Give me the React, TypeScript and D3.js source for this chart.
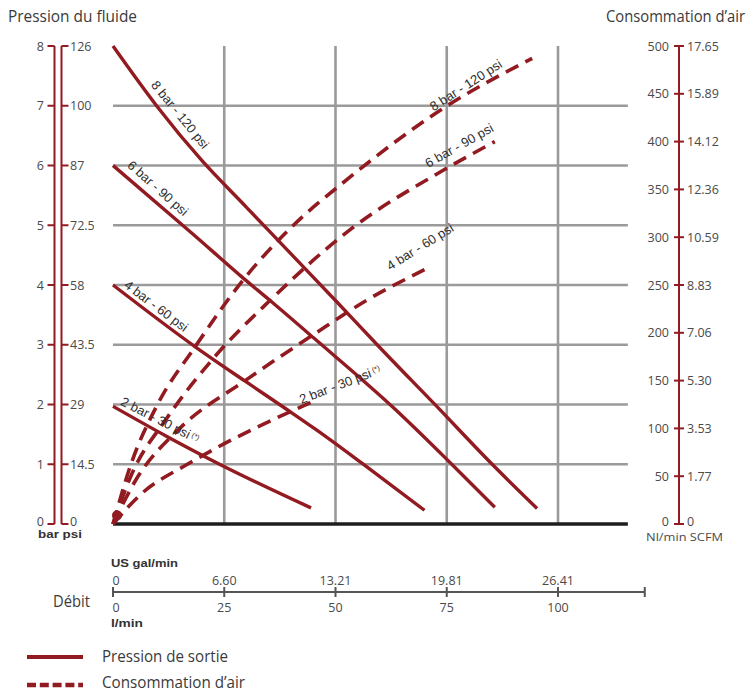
import React from 'react';
import * as d3 from 'd3';

// ---- data ----
const flowTicks = [0, 25, 50, 75, 100];
const galLabels = ['0', '6.60', '13.21', '19.81', '26.41'];
const barTicks = [0, 1, 2, 3, 4, 5, 6, 7, 8];
const psiLabels = ['0', '14.5', '29', '43.5', '58', '72.5', '87', '100', '126'];
const airTicks = [0, 50, 100, 150, 200, 250, 300, 350, 400, 450, 500];
const scfmLabels = ['0', '1.77', '3.53', '5.30', '7.06', '8.83', '10.59', '12.36', '14.12', '15.89', '17.65'];

// outlet pressure (bar) vs flow (l/min)
const pressure8 = [[0, 8.0], [10, 6.98], [20, 6.08], [30, 5.3], [40, 4.52], [50, 3.74], [60, 2.95], [72.6, 1.98], [85.2, 1.0], [95.3, 0.26]];
const pressure6 = [[0, 6.0], [18, 4.85], [29.2, 4.12], [35.3, 3.74], [45, 3.12], [63.4, 1.92], [76.4, 0.98], [85.8, 0.28]];
const pressure4 = [[0, 4.0], [18.4, 2.97], [29.7, 2.39], [39, 1.92], [45.8, 1.57], [56.6, 0.98], [70, 0.23]];
const pressure2 = [[0, 1.97], [12, 1.47], [24.5, 0.98], [44.5, 0.27]];

// air consumption (Nl/min) vs flow (l/min)
const air8 = [[0, 0], [4, 62], [10, 125], [18.4, 185], [29.2, 255], [40, 310], [53.3, 363], [74.6, 436], [94.2, 487]];
const air6 = [[0, 0], [4, 50], [12, 110], [22.5, 173], [35.3, 234], [53.3, 308], [74.2, 370], [85.8, 400]];
const air4 = [[0, 0], [5, 45], [15, 100], [29.7, 150], [45, 198], [57, 234], [70, 266]];
const air2 = [[0, 0], [6, 30], [17.3, 64], [23.4, 80], [44.9, 128]];

const pressureSeries = [pressure8, pressure6, pressure4, pressure2];
const airSeries = [air8, air6, air4, air2];
const seriesNames = ['8 bar - 120 psi', '6 bar - 90 psi', '4 bar - 60 psi', '2 bar - 30 psi'];

export default function App() {
  const W = 752, H = 692;
  const x = d3.scaleLinear().domain([0, 100]).range([113, 558]);
  const yB = d3.scaleLinear().domain([0, 8]).range([524, 46]);
  const yA = d3.scaleLinear().domain([0, 500]).range([524, 46]);
  const red = '#921b21';
  const grey = '#9a9a9a';
  const txt = '#4a4a4a';
  const font = "'Open Sans', 'Noto Sans', sans-serif";
  const lblFont = "'Liberation Sans', Arial, sans-serif";
  const xEnd = x(115.7);

  const lineP = d3.line<number[]>().x(d => x(d[0])).y(d => yB(d[1])).curve(d3.curveMonotoneX);
  const lineA = d3.line<number[]>().x(d => x(d[0])).y(d => yA(d[1])).curve(d3.curveMonotoneX);

  // curve label placements (data coords + angle)
  const solidLabels = [
    { fx: 15.1, v: 6.85, a: 51 },
    { fx: 10.1, v: 5.62, a: 41.6 },
    { fx: 9.7, v: 3.65, a: 37 },
    { fx: 10.6, v: 1.74, a: 27 },
  ];
  const dashLabels = [
    { fx: 79.3, v: 459, a: -33 },
    { fx: 77.8, v: 396, a: -29.4 },
    { fx: 69, v: 290, a: -32 },
    { fx: 51, v: 146, a: -21 },
  ];

  const lx1 = 54.5, lx2 = 61.5, rx = 679;
  const off = (v: number) => (v === 0 ? 1.5 : 4.5);

  return (
    <svg width={W} height={H} style={{ position: 'absolute', left: 0, top: 0, background: '#fff' }}>
      {/* titles */}
      <text x={8} y={22} fontFamily={font} fontSize={15.5} fill="#3a3a3a" textLength={129} lengthAdjust="spacingAndGlyphs">Pression du fluide</text>
      <text x={606} y={22} fontFamily={font} fontSize={15.5} fill="#3a3a3a" textLength={139} lengthAdjust="spacingAndGlyphs">Consommation d’air</text>

      {/* grid */}
      {barTicks.filter(b => b > 0 && b < 8).map(b => (
        <line key={'h' + b} x1={x(0)} x2={xEnd} y1={yB(b)} y2={yB(b)} stroke={grey} strokeWidth={2.6} />
      ))}
      {flowTicks.filter(f => f > 0).map(f => (
        <line key={'v' + f} x1={x(f)} x2={x(f)} y1={yB(8)} y2={yB(0)} stroke={grey} strokeWidth={2.6} />
      ))}
      <line x1={x(0)} x2={xEnd} y1={yB(0)} y2={yB(0)} stroke="#1e1e1e" strokeWidth={3.6} />

      {/* left axes */}
      <line x1={lx1} x2={lx1} y1={yB(8)} y2={yB(0)} stroke={red} strokeWidth={2} />
      <line x1={lx2} x2={lx2} y1={yB(8)} y2={yB(0)} stroke={red} strokeWidth={2} />
      {barTicks.map((b, i) => (
        <g key={'lb' + b}>
          <line x1={lx1 - 7} x2={lx1} y1={yB(b)} y2={yB(b)} stroke={red} strokeWidth={2} />
          <line x1={lx2} x2={lx2 + 7} y1={yB(b)} y2={yB(b)} stroke={red} strokeWidth={2} />
          <text x={44} y={yB(b) + off(b)} textAnchor="end" fontFamily={font} fontSize={12.5} fill={txt}>{b}</text>
          <text x={70} y={yB(b) + off(b)} fontFamily={font} fontSize={12.5} fill={txt}>{psiLabels[i]}</text>
        </g>
      ))}
      <text x={38} y={538} fontFamily={lblFont} fontWeight="bold" fontSize={11.5} fill="#333" textLength={44} lengthAdjust="spacingAndGlyphs">bar psi</text>

      {/* right axis */}
      <line x1={rx} x2={rx} y1={yA(500)} y2={yA(0)} stroke={red} strokeWidth={2} />
      {airTicks.map((a, i) => (
        <g key={'ra' + a}>
          <line x1={rx - 5} x2={rx + 5} y1={yA(a)} y2={yA(a)} stroke={red} strokeWidth={2} />
          <text x={669} y={yA(a) + off(a)} textAnchor="end" fontFamily={font} fontSize={12.5} fill={txt}>{a}</text>
          <text x={687} y={yA(a) + off(a)} fontFamily={font} fontSize={12.5} fill={txt}>{scfmLabels[i]}</text>
        </g>
      ))}
      <text x={646} y={541} fontFamily={font} fontSize={11.5} fill={txt} textLength={77} lengthAdjust="spacingAndGlyphs">Nl/min SCFM</text>

      {/* pressure curves */}
      {pressureSeries.map((s, i) => (
        <path key={'p' + i} d={lineP(s) || ''} fill="none" stroke={red} strokeWidth={3.4} />
      ))}
      {/* air curves */}
      {airSeries.map((s, i) => (
        <path key={'a' + i} d={lineA(s) || ''} fill="none" stroke={red} strokeWidth={3.6} strokeDasharray="14 8" />
      ))}
      <circle cx={x(0.9)} cy={yA(9)} r={5} fill={red} />

      {/* curve labels */}
      {solidLabels.map((l, i) => {
        const px = x(l.fx), py = yB(l.v);
        return (
          <text key={'sl' + i} x={px} y={py} transform={`rotate(${l.a} ${px} ${py})`} textAnchor="middle" dominantBaseline="central" fontFamily={lblFont} fontSize={13} fill="#2e2e2e">
            {seriesNames[i]}{i === 3 ? <tspan fontSize={7.5} dy={-2}> (*)</tspan> : null}
          </text>
        );
      })}
      {dashLabels.map((l, i) => {
        const px = x(l.fx), py = yA(l.v);
        return (
          <text key={'dl' + i} x={px} y={py} transform={`rotate(${l.a} ${px} ${py})`} textAnchor="middle" dominantBaseline="central" fontFamily={lblFont} fontSize={13} fill="#2e2e2e">
            {seriesNames[i]}{i === 3 ? <tspan fontSize={7.5} dy={-2}> (*)</tspan> : null}
          </text>
        );
      })}

      {/* bottom flow axis */}
      <text x={111} y={567} fontFamily={lblFont} fontWeight="bold" fontSize={11.5} fill="#333" textLength={67} lengthAdjust="spacingAndGlyphs">US gal/min</text>
      <text x={90} y={607} textAnchor="end" fontFamily={font} fontSize={17} fill="#3a3a3a" textLength={37} lengthAdjust="spacingAndGlyphs">Débit</text>
      <line x1={x(0)} x2={x(119.5)} y1={592} y2={592} stroke="#555" strokeWidth={2} />
      {flowTicks.map((f, i) => (
        <g key={'bt' + f}>
          <line x1={x(f)} x2={x(f)} y1={587} y2={597} stroke="#555" strokeWidth={2} />
          <text x={x(f) + (i === 0 ? 3 : 0)} y={585} textAnchor="middle" fontFamily={font} fontSize={12.5} fill={txt}>{galLabels[i]}</text>
          <text x={x(f) + (i === 0 ? 3 : 0)} y={612} textAnchor="middle" fontFamily={font} fontSize={12.5} fill={txt}>{f}</text>
        </g>
      ))}
      <line x1={x(119.5)} x2={x(119.5)} y1={587} y2={597} stroke="#555" strokeWidth={2} />
      <text x={111} y={627} fontFamily={lblFont} fontWeight="bold" fontSize={11.5} fill="#333" textLength={32} lengthAdjust="spacingAndGlyphs">l/min</text>

      {/* legend */}
      <line x1={27} x2={83} y1={657} y2={657} stroke={red} strokeWidth={4} />
      <text x={102} y={662} fontFamily={font} fontSize={17} fill="#3a3a3a" textLength={126} lengthAdjust="spacingAndGlyphs">Pression de sortie</text>
      <line x1={27} x2={83} y1={685} y2={685} stroke={red} strokeWidth={4.5} strokeDasharray="9 3.8" />
      <text x={102} y={688} fontFamily={font} fontSize={17} fill="#3a3a3a" textLength={143} lengthAdjust="spacingAndGlyphs">Consommation d’air</text>
    </svg>
  );
}
